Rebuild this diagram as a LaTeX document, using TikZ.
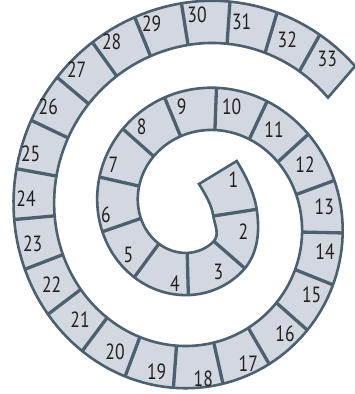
\documentclass[tikz,border=0pt]{standalone}
\usepackage{fontspec}
\setmainfont{PT Sans}[FakeStretch=0.8]
\usetikzlibrary{calc}
\definecolor{bandfill}{RGB}{211,216,224}
\definecolor{bandline}{RGB}{76,96,112}
\definecolor{numcol}{RGB}{35,31,32}
\begin{document}
\begin{tikzpicture}[x=1pt,y=-1pt,
  declare function={
    cxf(\myt)=199+0.55*(\myt-8)+0.65*(max(0,5.5-\myt))^2;
    cyf(\myt)=215.5+0.47*(\myt-8);
    lf(\myt)=13.8*\myt-5.2-9.5*(max(0,\myt-12.4))^2;
    px(\myt,\myl)=cxf(\myt)+13.8*cos(deg(\myt))+\myl*sin(deg(\myt));
    py(\myt,\myl)=cyf(\myt)+1.04*(13.8*sin(deg(\myt))-\myl*cos(deg(\myt)));
    sk(\myk)=-26+43.7*\myk+7*min(1,max(0,(8-\myk)/5));
    tk(\myk)=(-14.5+10*sqrt(2.1025+0.276*sk(\myk)))/13.8;
  },
  spiralband/.style={draw=bandline,line width=2.6pt,line join=miter,fill=bandfill},
  segdiv/.style={draw=bandline,line width=3.3pt},
  segnum/.style={font=\fontsize{22}{26}\selectfont,text=numcol,inner sep=0pt}
]
\useasboundingbox (0,0) rectangle (354,394);
\pgfmathsetmacro\tSecond{tk(2)}
\pgfmathsetmacro\tSecondB{\tSecond-0.05}
\pgfmathsetmacro\tLast{tk(33)}
\coordinate (A) at (199,184);
\coordinate (B) at (236.7,161);
\coordinate (Bi) at (213.3,216);
\coordinate (Bo) at (256.7,209.3);
\coordinate (I2) at ({px(\tSecond,lf(\tSecond))},{py(\tSecond,lf(\tSecond))});
\coordinate (O2) at ({px(\tSecond,lf(\tSecond)+40.6)},{py(\tSecond,lf(\tSecond)+40.6)});
\coordinate (I2m) at ({px(\tSecondB,lf(\tSecondB))},{py(\tSecondB,lf(\tSecondB))});
\coordinate (O2m) at ({px(\tSecondB,lf(\tSecondB)+40.6)},{py(\tSecondB,lf(\tSecondB)+40.6)});
\filldraw[spiralband] (B) .. controls ($(B)!17.5pt!90:(A)$) and ($(Bo)!17.5pt!-90:(Bi)$) .. (Bo)
  .. controls ($(Bo)!21pt!90:(Bi)$) and ($(O2)!21pt!(O2m)$) .. (O2)
  -- plot[variable=\myt,domain=\tSecond:\tLast,samples=260] ({px(\myt,lf(\myt)+40.6)},{py(\myt,lf(\myt)+40.6)})
  -- plot[variable=\myt,domain=\tLast:\tSecond,samples=260] ({px(\myt,lf(\myt))},{py(\myt,lf(\myt))})
  -- (I2) .. controls ($(I2)!9pt!(I2m)$) and ($(Bi)!9pt!-90:(Bo)$) .. (Bi)
  .. controls ($(Bi)!12pt!90:(Bo)$) and ($(A)!12pt!-90:(B)$) .. (A) -- cycle;
\foreach \k in {2,...,32}{
  \pgfmathsetmacro\tcur{tk(\k)}
  \draw[segdiv] ({px(\tcur,lf(\tcur))},{py(\tcur,lf(\tcur))}) -- ({px(\tcur,lf(\tcur)+40.6)},{py(\tcur,lf(\tcur)+40.6)});
}
\draw[segdiv] (Bi) -- (Bo);
\foreach \n/\x/\y in {1/233.5/180, 2/243.5/231.7, 3/218.3/271.7, 4/175/283.3, 5/128.3/255,
  6/106/215, 7/113.3/165, 8/141.7/126.7, 9/181.7/106.7, 10/231.7/106.7, 11/274/130,
  12/305/165, 13/324.3/206.7, 14/325/251.7, 15/311.7/295, 16/285/333.3, 17/248.3/363.3,
  18/203.3/378.3, 19/156.7/371.7, 20/115/351.7, 21/80/320, 22/51.7/285, 23/32.7/243.3,
  24/26/198.3, 25/30.7/154, 26/48.3/106.7, 27/76.7/70, 28/111.7/41.7, 29/151.7/24,
  30/197/15, 31/241.7/21.7, 32/287.3/39.3, 33/327.3/59.3}{
  \node[segnum] (l\n) at (\x,\y) {\n};
}
\end{tikzpicture}
\end{document}
